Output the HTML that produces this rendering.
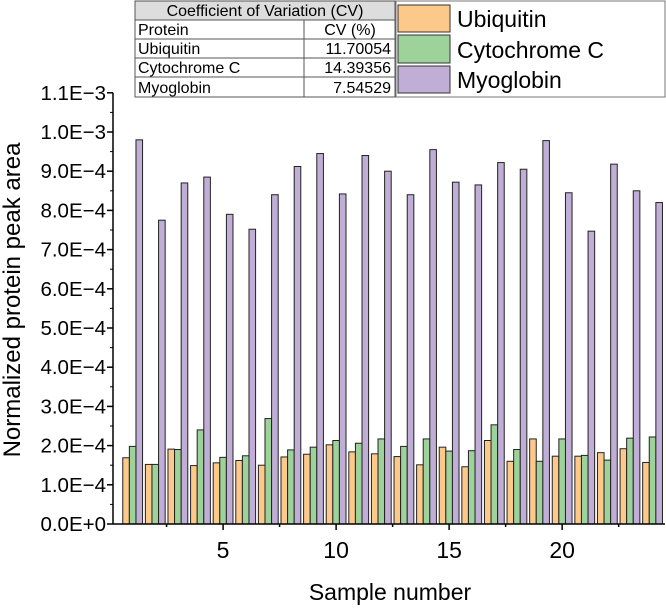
<!DOCTYPE html>
<html><head><meta charset="utf-8"><style>
body{margin:0;background:#fff;font-family:"Liberation Sans",sans-serif}
svg text{font-family:"Liberation Sans",sans-serif;fill:#000}
</style></head><body>
<svg id="chart" width="666" height="609" viewBox="0 0 666 609" xmlns="http://www.w3.org/2000/svg">
<g id="bars"></g>
<g id="axes"></g>
<text transform="translate(20,300) rotate(-90)" text-anchor="middle" font-size="24">Normalized protein peak area</text>
<text x="390" y="600" text-anchor="middle" font-size="23">Sample number</text>
<g font-size="16">
<rect x="135" y="1" width="260" height="96" fill="#fff" stroke="#555"/>
<rect x="135" y="1" width="260" height="19" fill="#ddd" stroke="#555"/>
<line x1="135" y1="39" x2="395" y2="39" stroke="#555"/>
<line x1="135" y1="58" x2="395" y2="58" stroke="#555"/>
<line x1="135" y1="77" x2="395" y2="77" stroke="#555"/>
<line x1="304" y1="20" x2="304" y2="97" stroke="#555"/>
<text x="265" y="16" text-anchor="middle">Coefficient of Variation (CV)</text>
<text x="138" y="35">Protein</text><text x="350" y="35" text-anchor="middle">CV (%)</text>
<text x="138" y="54">Ubiquitin</text><text x="391" y="54" text-anchor="end">11.70054</text>
<text x="138" y="73">Cytochrome C</text><text x="391" y="73" text-anchor="end">14.39356</text>
<text x="138" y="93">Myoglobin</text><text x="391" y="93" text-anchor="end">7.54529</text>
</g>
<g font-size="23">
<rect x="396" y="1" width="269" height="96" fill="#fff" stroke="#777"/>
<rect x="398" y="5" width="52" height="27" fill="#fcc98b" stroke="#333"/>
<rect x="398" y="35" width="52" height="28" fill="#9dd39b" stroke="#333"/>
<rect x="398" y="66" width="52" height="27" fill="#c0aed6" stroke="#333"/>
<text x="457" y="27">Ubiquitin</text>
<text x="457" y="58">Cytochrome C</text>
<text x="457" y="88">Myoglobin</text>
</g>
</svg>
<script>
const samples=[1,2,3,4,5,6,7,8,9,10,11,12,13,14,15,16,17,18,19,20,21,22,23,24];
const ubiquitin=[1.69,1.52,1.91,1.49,1.56,1.62,1.50,1.71,1.78,2.02,1.84,1.79,1.72,1.51,1.96,1.46,2.13,1.60,2.17,1.73,1.73,1.82,1.92,1.57];
const cytochrome=[1.98,1.52,1.90,2.40,1.70,1.74,2.69,1.89,1.96,2.13,2.06,2.17,1.98,2.17,1.86,1.87,2.53,1.90,1.60,2.17,1.75,1.63,2.19,2.22];
const myoglobin=[9.80,7.75,8.70,8.85,7.90,7.52,8.40,9.12,9.45,8.42,9.40,9.00,8.40,9.55,8.72,8.65,9.22,9.05,9.78,8.45,7.47,9.18,8.50,8.20];
const yTicks=["0.0E+0","1.0E−4","2.0E−4","3.0E−4","4.0E−4","5.0E−4","6.0E−4","7.0E−4","8.0E−4","9.0E−4","1.0E−3","1.1E−3"];
const xTicks=[5,10,15,20];
const NS="http://www.w3.org/2000/svg";
const X0=113,X1=665,XMIN=0.13,XMAX=24.55,Y0=524,YPX=39.2;
const xs=v=>X0+(v-XMIN)/(XMAX-XMIN)*(X1-X0);
const ys=v=>Y0-v*YPX;
function mk(t,a,p){const e=document.createElementNS(NS,t);for(const k in a)e.setAttribute(k,a[k]);p.appendChild(e);return e;}
const bars=document.getElementById('bars'),axes=document.getElementById('axes');
const series=[[ubiquitin,'#fcc98b','ubiquitin'],[cytochrome,'#9dd39b','cytochrome'],[myoglobin,'#c0aed6','myoglobin']];
const bw=6.6;
samples.forEach((s,i)=>{
  series.forEach((sr,j)=>{
    const x=xs(s)+(j-1)*bw-bw/2, y=ys(sr[0][i]);
    const r=mk('rect',{x:x,y:y,width:bw,height:Y0-y,fill:sr[1],stroke:'#222','stroke-width':1},bars);
    
    
  });
});
mk('line',{x1:X0,y1:Y0,x2:X1,y2:Y0,stroke:'#000','stroke-width':1.5},axes);
mk('line',{x1:X0,y1:Y0,x2:X0,y2:ys(11),stroke:'#000','stroke-width':1.5},axes);
yTicks.forEach((t,i)=>{
  const y=ys(i);
  mk('line',{x1:X0-6,y1:y,x2:X0,y2:y,stroke:'#000','stroke-width':1.5},axes);
  if(i<11){const ym=ys(i+0.5);mk('line',{x1:X0-3,y1:ym,x2:X0,y2:ym,stroke:'#000'},axes);}
  const tx=mk('text',{x:X0-7,y:y+7,'text-anchor':'end','font-size':20.5},axes);
  tx.textContent=t;
  
  
});
for(let v=2.5;v<=24;v+=2.5){
  const x=xs(v),major=v%5===0;
  mk('line',{x1:x,y1:Y0,x2:x,y2:Y0+(major?6:3),stroke:'#000','stroke-width':1.5},axes);
}
xTicks.forEach(v=>{
  const tx=mk('text',{x:xs(v),y:Y0+34,'text-anchor':'middle','font-size':23},axes);
  tx.textContent=v;
  
  
});
</script>
</body></html>
